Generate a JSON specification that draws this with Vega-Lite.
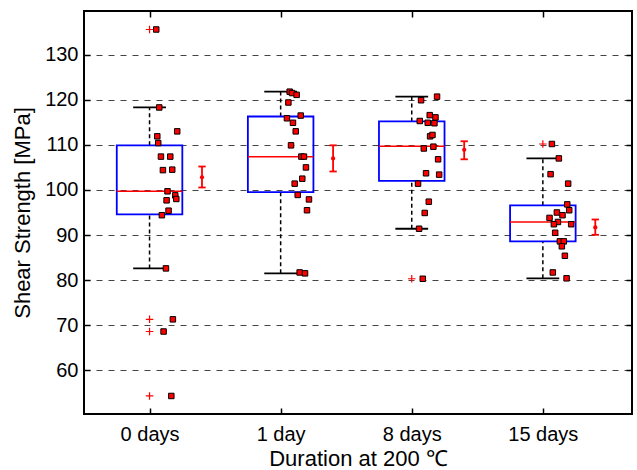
{
  "$schema": "https://vega.github.io/schema/vega-lite/v6.json",
  "width": 548,
  "height": 403,
  "autosize": {"type": "none"},
  "padding": {"left": 84, "top": 11, "right": 5, "bottom": 56},
  "background": "white",
  "config": {
    "font": "Liberation Sans",
    "view": {"stroke": "black", "strokeWidth": 2},
    "axis": {
      "domain": false,
      "labelFontSize": 20,
      "labelColor": "black",
      "titleFontSize": 22,
      "titleFontWeight": "normal",
      "titleColor": "black",
      "tickColor": "black",
      "tickWidth": 1.5,
      "tickSize": -6,
      "grid": false
    }
  },
  "datasets": {
    "points": [
      {"g": 1, "v": 135.6, "jitter": 0.051}, {"g": 1, "v": 118.3, "jitter": 0.074}, {"g": 1, "v": 113.0, "jitter": 0.211},
      {"g": 1, "v": 111.9, "jitter": 0.059}, {"g": 1, "v": 110.4, "jitter": 0.066}, {"g": 1, "v": 107.4, "jitter": 0.087},
      {"g": 1, "v": 107.4, "jitter": 0.158}, {"g": 1, "v": 104.4, "jitter": 0.102}, {"g": 1, "v": 104.5, "jitter": 0.173},
      {"g": 1, "v": 99.7, "jitter": 0.137}, {"g": 1, "v": 98.8, "jitter": 0.196}, {"g": 1, "v": 98.0, "jitter": 0.204},
      {"g": 1, "v": 97.7, "jitter": 0.130}, {"g": 1, "v": 95.4, "jitter": 0.145}, {"g": 1, "v": 94.4, "jitter": 0.094},
      {"g": 1, "v": 82.6, "jitter": 0.125}, {"g": 1, "v": 71.3, "jitter": 0.178}, {"g": 1, "v": 68.6, "jitter": 0.107},
      {"g": 1, "v": 54.3, "jitter": 0.166},
      {"g": 2, "v": 121.8, "jitter": 0.069}, {"g": 2, "v": 121.5, "jitter": 0.087}, {"g": 2, "v": 121.1, "jitter": 0.122},
      {"g": 2, "v": 119.4, "jitter": 0.059}, {"g": 2, "v": 116.5, "jitter": 0.153}, {"g": 2, "v": 115.9, "jitter": 0.048},
      {"g": 2, "v": 114.9, "jitter": 0.094}, {"g": 2, "v": 113.0, "jitter": 0.115}, {"g": 2, "v": 109.9, "jitter": 0.079},
      {"g": 2, "v": 107.4, "jitter": 0.158}, {"g": 2, "v": 107.4, "jitter": 0.178}, {"g": 2, "v": 105.0, "jitter": 0.193},
      {"g": 2, "v": 102.5, "jitter": 0.165}, {"g": 2, "v": 101.4, "jitter": 0.107}, {"g": 2, "v": 98.9, "jitter": 0.130},
      {"g": 2, "v": 97.9, "jitter": 0.216}, {"g": 2, "v": 95.5, "jitter": 0.201}, {"g": 2, "v": 81.7, "jitter": 0.145},
      {"g": 2, "v": 81.5, "jitter": 0.186},
      {"g": 3, "v": 120.7, "jitter": 0.193}, {"g": 3, "v": 119.9, "jitter": 0.071}, {"g": 3, "v": 116.6, "jitter": 0.137},
      {"g": 3, "v": 116.1, "jitter": 0.181}, {"g": 3, "v": 115.3, "jitter": 0.061}, {"g": 3, "v": 114.9, "jitter": 0.122},
      {"g": 3, "v": 114.8, "jitter": 0.173}, {"g": 3, "v": 111.9, "jitter": 0.140}, {"g": 3, "v": 112.2, "jitter": 0.158},
      {"g": 3, "v": 109.6, "jitter": 0.165}, {"g": 3, "v": 109.2, "jitter": 0.092}, {"g": 3, "v": 106.8, "jitter": 0.201},
      {"g": 3, "v": 103.7, "jitter": 0.109}, {"g": 3, "v": 103.4, "jitter": 0.209}, {"g": 3, "v": 101.4, "jitter": 0.048},
      {"g": 3, "v": 97.4, "jitter": 0.130}, {"g": 3, "v": 94.9, "jitter": 0.099}, {"g": 3, "v": 91.4, "jitter": 0.056},
      {"g": 3, "v": 80.3, "jitter": 0.084},
      {"g": 4, "v": 110.2, "jitter": 0.069}, {"g": 4, "v": 107.0, "jitter": 0.122}, {"g": 4, "v": 103.5, "jitter": 0.059},
      {"g": 4, "v": 101.4, "jitter": 0.193}, {"g": 4, "v": 96.8, "jitter": 0.186}, {"g": 4, "v": 95.5, "jitter": 0.201},
      {"g": 4, "v": 95.0, "jitter": 0.107}, {"g": 4, "v": 94.4, "jitter": 0.150}, {"g": 4, "v": 93.8, "jitter": 0.051},
      {"g": 4, "v": 92.9, "jitter": 0.115}, {"g": 4, "v": 92.4, "jitter": 0.084}, {"g": 4, "v": 92.4, "jitter": 0.216},
      {"g": 4, "v": 90.5, "jitter": 0.094}, {"g": 4, "v": 88.6, "jitter": 0.130}, {"g": 4, "v": 88.6, "jitter": 0.160},
      {"g": 4, "v": 87.5, "jitter": 0.145}, {"g": 4, "v": 85.4, "jitter": 0.168}, {"g": 4, "v": 81.7, "jitter": 0.076},
      {"g": 4, "v": 80.4, "jitter": 0.181}
    ],
    "boxes": [
      {"g": 1, "lower": 82.6, "q1": 94.6, "median": 99.7, "q3": 109.9, "upper": 118.3},
      {"g": 2, "lower": 81.5, "q1": 99.5, "median": 107.35, "q3": 116.3, "upper": 121.8},
      {"g": 3, "lower": 91.4, "q1": 102.0, "median": 109.7, "q3": 115.2, "upper": 120.7},
      {"g": 4, "lower": 80.4, "q1": 88.6, "median": 92.9, "q3": 96.6, "upper": 107.0}
    ],
    "outliers": [
      {"g": 1, "v": 135.6}, {"g": 1, "v": 71.3}, {"g": 1, "v": 68.6}, {"g": 1, "v": 54.3},
      {"g": 3, "v": 80.3}, {"g": 4, "v": 110.2}
    ],
    "means": [
      {"g": 1, "mean": 102.8, "lo": 100.55, "hi": 105.2},
      {"g": 2, "mean": 107.0, "lo": 104.1, "hi": 109.9},
      {"g": 3, "mean": 108.9, "lo": 106.8, "hi": 110.8},
      {"g": 4, "mean": 91.7, "lo": 90.05, "hi": 93.45}
    ]
  },
  "layer": [
    {
      "data": {"name": "means"},
      "mark": {"type": "point", "opacity": 0},
      "encoding": {
        "x": {
          "field": "g", "type": "quantitative",
          "scale": {"domain": [0.5, 4.68], "nice": false, "zero": false},
          "axis": {
            "orient": "bottom", "values": [1, 2, 3, 4],
            "labelExpr": "datum.value == 1 ? '0 days' : datum.value == 2 ? '1 day' : datum.value == 3 ? '8 days' : '15 days'",
            "title": "Duration at 200 ℃", "labelPadding": 16, "titlePadding": 4
          }
        },
        "y": {
          "field": "mean", "type": "quantitative",
          "scale": {"domain": [50.3, 139.7], "nice": false, "zero": false},
          "axis": {
            "orient": "left", "values": [60, 70, 80, 90, 100, 110, 120, 130],
            "grid": true, "gridDash": [6, 6], "gridColor": "#444444", "gridWidth": 1,
            "title": "Shear Strength [MPa]", "labelPadding": 12, "titlePadding": 10
          }
        }
      }
    },
    {
      "data": {"name": "means"},
      "mark": {"type": "point", "opacity": 0},
      "encoding": {
        "x": {
          "field": "g", "type": "quantitative",
          "scale": {"domain": [0.5, 4.68], "nice": false, "zero": false},
          "axis": {"orient": "top", "values": [1, 2, 3, 4], "labels": false, "title": null}
        },
        "y": {
          "field": "mean", "type": "quantitative",
          "scale": {"domain": [50.3, 139.7], "nice": false, "zero": false},
          "axis": {"orient": "right", "values": [60, 70, 80, 90, 100, 110, 120, 130], "labels": false, "title": null}
        }
      }
    },
    {
      "data": {"name": "boxes"},
      "mark": {"type": "rule", "color": "black", "strokeWidth": 1.5, "strokeDash": [4, 3]},
      "encoding": {
        "x": {"field": "g", "type": "quantitative", "axis": null},
        "y": {"field": "q3", "type": "quantitative", "axis": null},
        "y2": {"field": "upper"}
      }
    },
    {
      "data": {"name": "boxes"},
      "mark": {"type": "rule", "color": "black", "strokeWidth": 1.5, "strokeDash": [4, 3]},
      "encoding": {
        "x": {"field": "g", "type": "quantitative", "axis": null},
        "y": {"field": "lower", "type": "quantitative", "axis": null},
        "y2": {"field": "q1"}
      }
    },
    {
      "data": {"name": "boxes"},
      "transform": [
        {"calculate": "datum.g - 0.125", "as": "cl"},
        {"calculate": "datum.g + 0.125", "as": "cr"}
      ],
      "mark": {"type": "rule", "color": "black", "strokeWidth": 1.8},
      "encoding": {
        "x": {"field": "cl", "type": "quantitative", "axis": null},
        "x2": {"field": "cr"},
        "y": {"field": "upper", "type": "quantitative", "axis": null}
      }
    },
    {
      "data": {"name": "boxes"},
      "transform": [
        {"calculate": "datum.g - 0.125", "as": "cl"},
        {"calculate": "datum.g + 0.125", "as": "cr"}
      ],
      "mark": {"type": "rule", "color": "black", "strokeWidth": 1.8},
      "encoding": {
        "x": {"field": "cl", "type": "quantitative", "axis": null},
        "x2": {"field": "cr"},
        "y": {"field": "lower", "type": "quantitative", "axis": null}
      }
    },
    {
      "data": {"name": "boxes"},
      "transform": [
        {"calculate": "datum.g - 0.25", "as": "bl"},
        {"calculate": "datum.g + 0.25", "as": "br"}
      ],
      "mark": {"type": "rect", "fill": null, "fillOpacity": 0, "stroke": "#0000FF", "strokeWidth": 1.8},
      "encoding": {
        "x": {"field": "bl", "type": "quantitative", "axis": null},
        "x2": {"field": "br"},
        "y": {"field": "q1", "type": "quantitative", "axis": null},
        "y2": {"field": "q3"}
      }
    },
    {
      "data": {"name": "boxes"},
      "transform": [
        {"calculate": "datum.g - 0.25", "as": "bl"},
        {"calculate": "datum.g + 0.25", "as": "br"}
      ],
      "mark": {"type": "rule", "color": "#FF0000", "strokeWidth": 1.5},
      "encoding": {
        "x": {"field": "bl", "type": "quantitative", "axis": null},
        "x2": {"field": "br"},
        "y": {"field": "median", "type": "quantitative", "axis": null}
      }
    },
    {
      "data": {"name": "outliers"},
      "mark": {"type": "point", "shape": "M-1,0L1,0M0,-1L0,1", "size": 56, "filled": false, "stroke": "#FF0000", "strokeWidth": 1.2, "opacity": 1},
      "encoding": {
        "x": {"field": "g", "type": "quantitative", "axis": null},
        "y": {"field": "v", "type": "quantitative", "axis": null}
      }
    },
    {
      "data": {"name": "points"},
      "transform": [{"calculate": "datum.g + datum.jitter", "as": "px"}],
      "mark": {"type": "square", "size": 30, "filled": true, "fill": "#FF0000", "stroke": "black", "strokeWidth": 1, "opacity": 1},
      "encoding": {
        "x": {"field": "px", "type": "quantitative", "axis": null},
        "y": {"field": "v", "type": "quantitative", "axis": null}
      }
    },
    {
      "data": {"name": "means"},
      "transform": [{"calculate": "datum.g + 0.4", "as": "mx"}],
      "mark": {"type": "rule", "color": "#FF0000", "strokeWidth": 1.8},
      "encoding": {
        "x": {"field": "mx", "type": "quantitative", "axis": null},
        "y": {"field": "lo", "type": "quantitative", "axis": null},
        "y2": {"field": "hi"}
      }
    },
    {
      "data": {"name": "means"},
      "transform": [
        {"calculate": "datum.g + 0.372", "as": "ml"},
        {"calculate": "datum.g + 0.428", "as": "mr"}
      ],
      "mark": {"type": "rule", "color": "#FF0000", "strokeWidth": 1.8},
      "encoding": {
        "x": {"field": "ml", "type": "quantitative", "axis": null},
        "x2": {"field": "mr"},
        "y": {"field": "hi", "type": "quantitative", "axis": null}
      }
    },
    {
      "data": {"name": "means"},
      "transform": [
        {"calculate": "datum.g + 0.372", "as": "ml"},
        {"calculate": "datum.g + 0.428", "as": "mr"}
      ],
      "mark": {"type": "rule", "color": "#FF0000", "strokeWidth": 1.8},
      "encoding": {
        "x": {"field": "ml", "type": "quantitative", "axis": null},
        "x2": {"field": "mr"},
        "y": {"field": "lo", "type": "quantitative", "axis": null}
      }
    },
    {
      "data": {"name": "means"},
      "transform": [{"calculate": "datum.g + 0.4", "as": "mx"}],
      "mark": {"type": "circle", "size": 18, "color": "#FF0000", "opacity": 1},
      "encoding": {
        "x": {"field": "mx", "type": "quantitative", "axis": null},
        "y": {"field": "mean", "type": "quantitative", "axis": null}
      }
    }
  ],
  "resolve": {"axis": {"x": "independent", "y": "independent"}}
}
